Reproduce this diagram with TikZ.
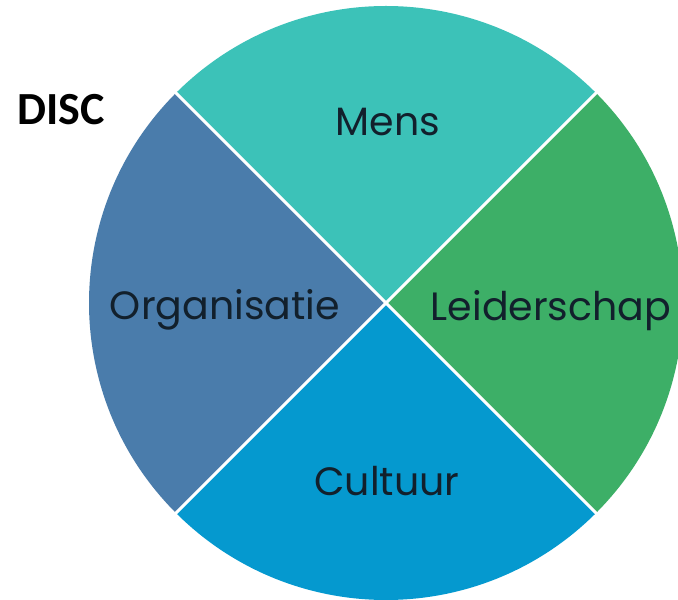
\documentclass[tikz,border=0pt]{standalone}
\usepackage{fontspec}
\setmainfont{Poppins}
\newfontfamily\titlefont{Carlito}
\definecolor{mensc}{HTML}{3CC2B8}
\definecolor{leidc}{HTML}{3DAF67}
\definecolor{cultc}{HTML}{0599CF}
\definecolor{orgc}{HTML}{4A7CAB}
\definecolor{inkc}{HTML}{12202C}
\newcommand{\quarter}[2]{\fill[#1] (386,297) -- ++(#2:297) arc (#2:#2+90:297) -- cycle}

\begin{document}
\begin{tikzpicture}[x=1pt,y=1pt,
	lbl/.style={anchor=base,inner sep=0,text=inkc,font=\fontsize{39.5}{39.5}\selectfont}]
	\useasboundingbox (0,0) rectangle (678,600);
	\clip (0,0) rectangle (678,600);
		\quarter{mensc}{45};
		\quarter{orgc}{135};
		\quarter{cultc}{225};
		\quarter{leidc}{315};
			\draw[white,line width=3] (386,297) -- ++(45:300);
			\draw[white,line width=3] (386,297) -- ++(135:300);
			\draw[white,line width=3] (386,297) -- ++(225:300);
			\draw[white,line width=3] (386,297) -- ++(315:300);
	\node[lbl] (mens) at (388,464) {Mens};
	\node[lbl] (leid) at (551,279) {Leiderschap};
	\node[lbl] (cult) at (387,104) {Cultuur};
	\node[lbl] (org) at (225,280) {Organisatie};
	\node[anchor=base west,inner sep=0,font=\titlefont\bfseries\fontsize{46}{46}\selectfont] (disc) at (17,475) {DISC};
\end{tikzpicture}
\end{document}
